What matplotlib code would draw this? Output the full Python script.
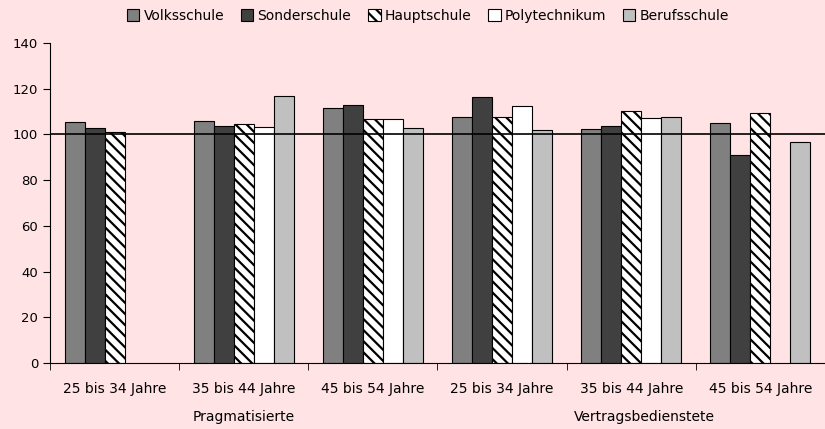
import numpy as np
import matplotlib.pyplot as plt
from matplotlib.patches import Patch

categories = ["25 bis 34 Jahre", "35 bis 44 Jahre", "45 bis 54 Jahre",
              "25 bis 34 Jahre", "35 bis 44 Jahre", "45 bis 54 Jahre"]
groups = ["Pragmatisierte", "Vertragsbedienstete"]
series = ["Volksschule", "Sonderschule", "Hauptschule", "Polytechnikum", "Berufsschule"]

volksschule = [105.6, 105.7, 111.5, 107.5, 102.2, 104.8]
sonderschule = [102.6, 103.5, 112.7, 116.4, 103.8, 90.8]
hauptschule = [100.9, 104.4, 106.6, 107.5, 110.1, 109.4]
polytechnikum = [np.nan, 103.1, 106.6, 112.3, 107.0, np.nan]
berufsschule = [np.nan, 116.8, 102.9, 102.1, 107.5, 96.5]

values = [volksschule, sonderschule, hauptschule, polytechnikum, berufsschule]
colors = ["#808080", "#404040", "white", "white", "#C0C0C0"]
hatches = [None, None, "\\\\\\", None, None]

bg = "#FFE3E5"
plt.rcParams["font.family"] = "DejaVu Sans"
plt.rcParams["hatch.linewidth"] = 1.6

fig = plt.figure(figsize=(8.25, 4.29), dpi=100, facecolor=bg)
ax = fig.add_axes([50 / 825, 1 - 363 / 429, 775 / 825, 320 / 429])
ax.set_facecolor(bg)

x = np.arange(len(categories))
w = 0.155
for i, (vals, c, h) in enumerate(zip(values, colors, hatches)):
    ax.bar(x + (i - 2) * w, vals, w, color=c, edgecolor="black", linewidth=0.8,
           hatch=h, label=series[i])

ax.axhline(100, color="black", linewidth=1.2, zorder=5)

ax.set_xlim(-0.5, len(categories) - 0.5)
ax.set_ylim(0, 140)
ax.set_yticks(range(0, 141, 20))
ax.set_xticks(x)
ax.set_xticklabels(categories, fontsize=10)
ax.set_xticks(np.arange(-0.5, len(categories)), minor=True)
ax.tick_params(axis="x", which="major", length=0, pad=14)
ax.tick_params(axis="x", which="minor", length=5, direction="out")
ax.tick_params(axis="y", labelsize=9.5, length=5, direction="out")
for s in ["top", "right"]:
    ax.spines[s].set_visible(False)

ax.text(1, -0.17, groups[0], transform=ax.get_xaxis_transform(), ha="center", va="center", fontsize=10)
ax.text(4.1, -0.17, groups[1], transform=ax.get_xaxis_transform(), ha="center", va="center", fontsize=10)

handles = [Patch(facecolor=c, edgecolor="black", hatch=h, linewidth=0.8) for c, h in zip(colors, hatches)]
fig.legend(handles, series, loc="center", bbox_to_anchor=(428 / 825, 1 - 16 / 429), ncol=5,
           frameon=False, fontsize=10, handlelength=0.9, handleheight=0.9,
           handletextpad=0.3, columnspacing=1.2)

fig.savefig("out.png", dpi=100, facecolor=bg)
